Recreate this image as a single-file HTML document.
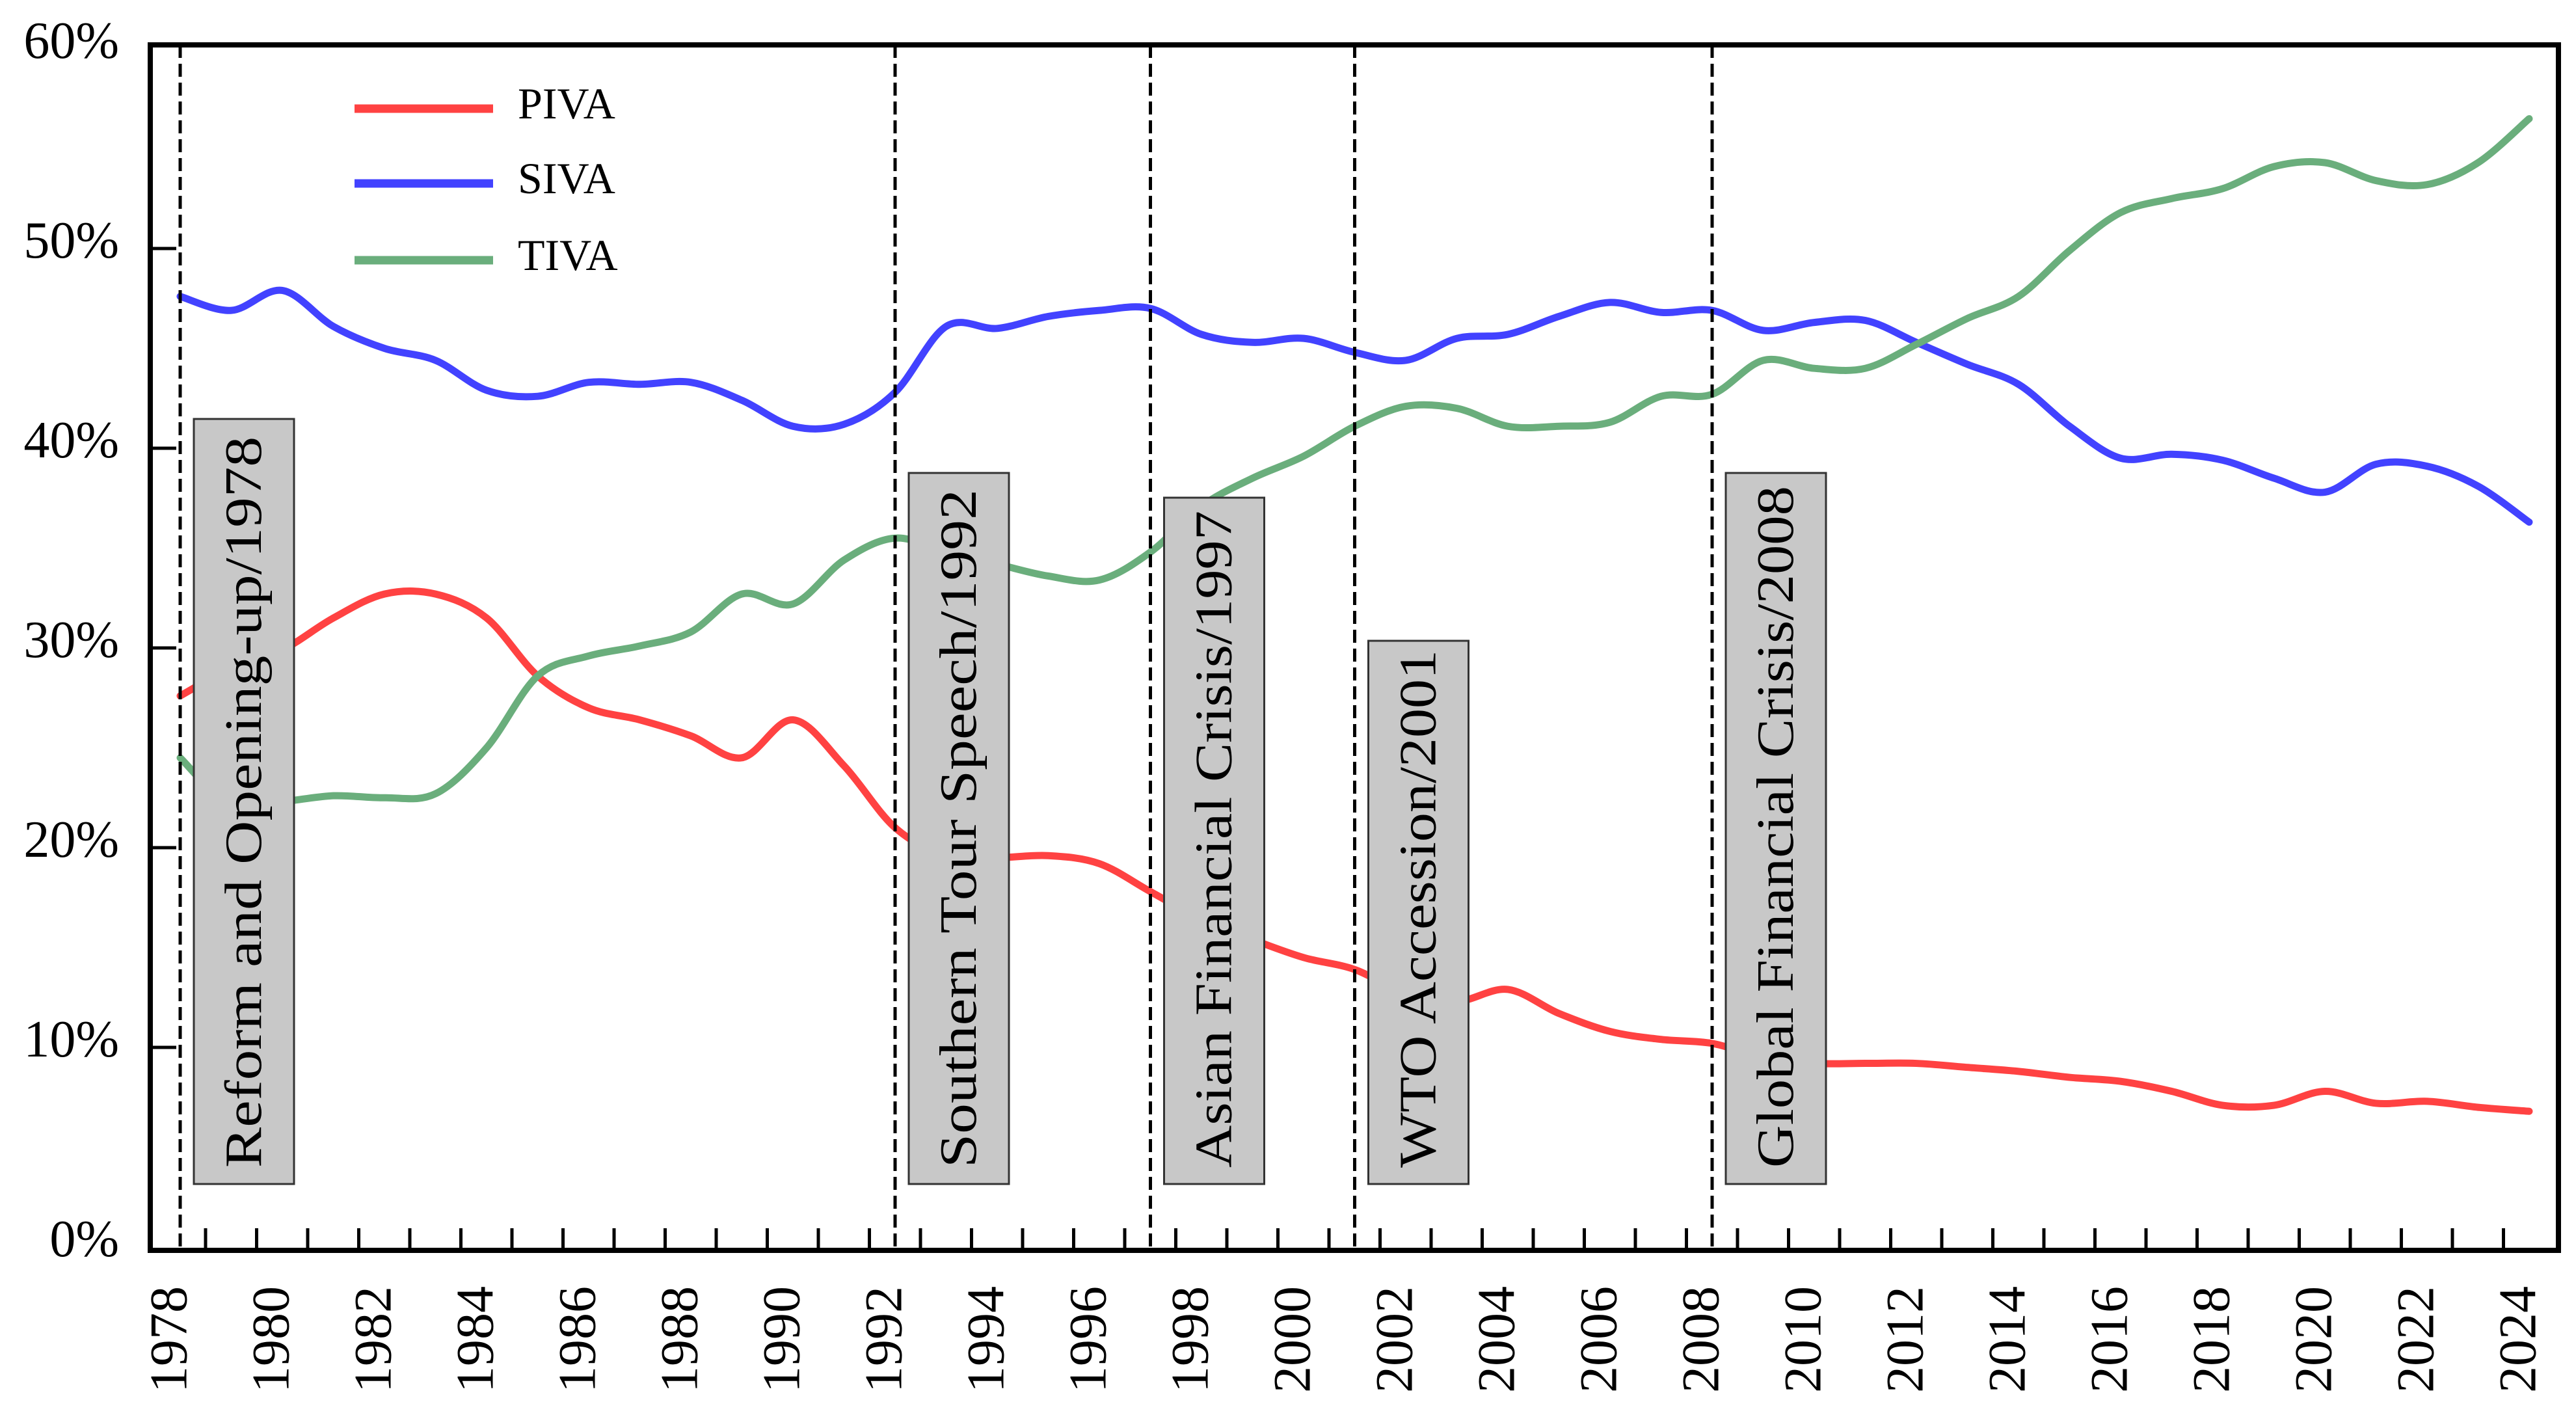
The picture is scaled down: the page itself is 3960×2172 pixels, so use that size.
<!DOCTYPE html>
<html><head><meta charset="utf-8"><style>
html,body{margin:0;padding:0;background:#fff}
svg{display:block;font-family:"Liberation Serif",serif}
</style></head><body>
<svg id="chart" xmlns="http://www.w3.org/2000/svg" width="3960" height="2172" viewBox="0 0 3960 2172">
<rect x="0" y="0" width="3960" height="2172" fill="#fff"/>
<g id="lines"></g>
<g id="events"></g>
<g id="axes"></g>
<g id="legend"></g>
</svg>
<script>
const years = [];
for (let y = 1978; y <= 2024; y++) years.push(y);
const piva = [27.6,29.0,29.9,31.5,32.7,32.7,31.5,28.6,27.0,26.4,25.6,24.5,26.4,24.1,21.0,19.6,19.5,19.6,19.2,17.8,16.4,15.4,14.5,13.9,12.7,12.3,12.9,11.7,10.8,10.4,10.2,9.5,9.2,9.2,9.2,9.0,8.8,8.5,8.3,7.8,7.1,7.1,7.8,7.2,7.3,7.0,6.8];
const siva = [47.6,46.9,47.9,46.1,45.0,44.4,42.9,42.6,43.3,43.2,43.3,42.4,41.1,41.2,42.8,46.1,46.0,46.6,46.9,47.0,45.7,45.3,45.5,44.8,44.4,45.5,45.7,46.6,47.3,46.8,46.9,45.9,46.3,46.4,45.3,44.2,43.2,41.1,39.5,39.7,39.4,38.5,37.8,39.2,39.1,38.1,36.3];
const tiva = [24.5,22.1,22.3,22.6,22.5,22.7,25.0,28.6,29.6,30.1,30.8,32.7,32.2,34.4,35.5,34.8,34.2,33.6,33.4,34.8,37.1,38.5,39.6,41.1,42.1,42.0,41.1,41.1,41.3,42.6,42.7,44.4,44.0,44.0,45.2,46.5,47.6,49.9,51.8,52.5,53.0,54.1,54.3,53.4,53.2,54.3,56.5];
const yTicks = [0,10,20,30,40,50,60];
const xLabels = [1978,1980,1982,1984,1986,1988,1990,1992,1994,1996,1998,2000,2002,2004,2006,2008,2010,2012,2014,2016,2018,2020,2022,2024];
const eventYears = [1978,1992,1997,2001,2008];
const eventLabels = ["Reform and Opening-up/1978","Southern Tour Speech/1992","Asian Financial Crisis/1997","WTO Accession/2001","Global Financial Crisis/2008"];
const eventBoxTops = [644,727,765,985,727];
const eventTextLens = [1124,1043,1010,796,1048];

const NS = "http://www.w3.org/2000/svg";
const L = 231, R = 3933, T = 69, B = 1922;
const xData = t => 277 + (t - 1978) * 78.5;
const xLabel = t => 259 + (t - 1978) * 78.5;
const yS = v => 1917 - v * 30.7;
function el(tag, attrs, parent) {
  const e = document.createElementNS(NS, tag);
  for (const k in attrs) e.setAttribute(k, attrs[k]);
  parent.appendChild(e);
  return e;
}
function smoothPath(xs, ys) {
  const pts = xs.map((x, i) => [x, ys[i]]);
  let d = `M${pts[0][0]},${pts[0][1]}`;
  for (let i = 0; i < pts.length - 1; i++) {
    const p0 = pts[Math.max(0, i - 1)], p1 = pts[i], p2 = pts[i + 1], p3 = pts[Math.min(pts.length - 1, i + 2)];
    const c1x = p1[0] + (p2[0] - p0[0]) / 6, c1y = p1[1] + (p2[1] - p0[1]) / 6;
    const c2x = p2[0] - (p3[0] - p1[0]) / 6, c2y = p2[1] - (p3[1] - p1[1]) / 6;
    d += ` C${c1x},${c1y} ${c2x},${c2y} ${p2[0]},${p2[1]}`;
  }
  return d;
}
const linesG = document.getElementById('lines');
const series = [["piva", piva, "#ff4242"], ["siva", siva, "#4242ff"], ["tiva", tiva, "#6aae7c"]];
series.forEach(([name, vals, col]) => {
  const p = el('path', {d: smoothPath(years.map(xData), vals.map(yS)), fill: 'none', stroke: col, 'stroke-width': 11, 'stroke-linejoin': 'round', 'stroke-linecap': 'round'}, linesG);
  
  
});

const evG = document.getElementById('events');
eventYears.forEach((yr, i) => {
  const x = xData(yr);
  const ln = el('line', {x1: x, y1: T, x2: x, y2: B, stroke: '#000', 'stroke-width': 5, 'stroke-dasharray': '20,9'}, evG);
  
  
});
eventYears.forEach((yr, i) => {
  const x = xData(yr);
  const bx = x + 21, bw = 154, top = eventBoxTops[i], bot = 1820;
  const r = el('rect', {x: bx, y: top, width: bw, height: bot - top, fill: '#c8c8c8', stroke: '#333', 'stroke-width': 3}, evG);
  
  
  const cx = bx + bw / 2, ty = bot - 25;
  const t = el('text', {x: cx, y: ty, transform: `rotate(-90 ${cx} ${ty})`, 'font-size': 80, 'dominant-baseline': 'central', textLength: eventTextLens[i], lengthAdjust: 'spacingAndGlyphs', fill: '#000'}, evG);
  t.textContent = eventLabels[i];
  
  
});

const axG = document.getElementById('axes');
const frame = el('rect', {x: L, y: T, width: R - L, height: B - T, fill: 'none', stroke: '#000', 'stroke-width': 8}, axG);


yTicks.forEach(v => {
  const y = yS(v);
  if (v > 0 && v < 60) {
    const tk = el('line', {x1: L, y1: y, x2: L + 40, y2: y, stroke: '#000', 'stroke-width': 5}, axG);
    
    
  }
  const t = el('text', {x: 183, y: y - 12, 'font-size': 80, 'text-anchor': 'end', 'dominant-baseline': 'central', fill: '#000'}, axG);
  t.textContent = v + '%';
  
  
});
for (let k = 0; k <= 45; k++) {
  const x = 316 + k * 78.5;
  const tk = el('line', {x1: x, y1: B, x2: x, y2: B - 34, stroke: '#000', 'stroke-width': 5}, axG);
  
  
}
xLabels.forEach(yr => {
  const x = xLabel(yr), y = 1977;
  const t = el('text', {x: x, y: y, transform: `rotate(-90 ${x} ${y})`, 'font-size': 82, 'text-anchor': 'end', 'dominant-baseline': 'central', fill: '#000'}, axG);
  t.textContent = yr;
  
  
});

const lgG = document.getElementById('legend');
const legendNames = ["PIVA", "SIVA", "TIVA"];
const legendYs = [167, 282, 400];
series.forEach(([name, vals, col], i) => {
  const y = legendYs[i];
  const ln = el('line', {x1: 545, y1: y, x2: 758, y2: y, stroke: col, 'stroke-width': 13}, lgG);
  
  
  const t = el('text', {x: 796, y: y - 8, 'font-size': 68, 'dominant-baseline': 'central', fill: '#000'}, lgG);
  t.textContent = legendNames[i];
  
  
});
</script>
</body></html>
